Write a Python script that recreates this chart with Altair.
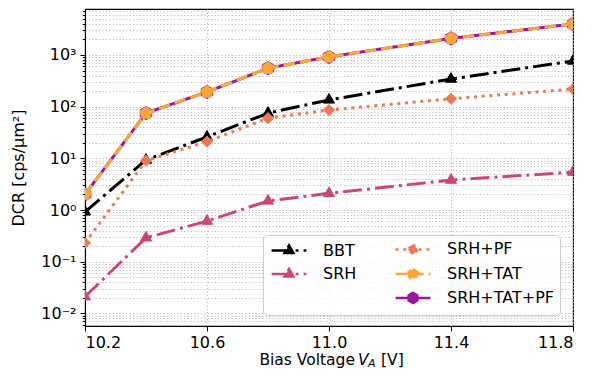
import altair as alt
import pandas as pd
import numpy as np

# ---- data ----
voltages = [10.2, 10.4, 10.6, 10.8, 11.0, 11.4, 11.8]
bbt = [0.92, 9.3, 26, 75, 135, 342, 765]
srh = [0.021, 0.29, 0.61, 1.5, 2.1, 3.8, 5.4]
srh_pf = [0.23, 9.0, 21, 60, 86, 142, 219]
srh_tat = [2.0, 75, 192, 555, 920, 2090, 3980]
srh_tat_pf = [2.0, 75, 192, 555, 920, 2090, 3980]

names = ["BBT", "SRH", "SRH+PF", "SRH+TAT", "SRH+TAT+PF"]
values = [bbt, srh, srh_pf, srh_tat, srh_tat_pf]

rows = []
for n, vals in zip(names, values):
    for v, d in zip(voltages, vals):
        rows.append({"series": n, "V": v, "DCR": d})
df = pd.DataFrame(rows)

# ---- styles ----
colors = {"BBT": "#000000", "SRH": "#cc4778", "SRH+PF": "#ed7953",
          "SRH+TAT": "#fca636", "SRH+TAT+PF": "#9c179e"}
dashes = {"BBT": [19, 5, 3, 5], "SRH": [19, 5, 3, 5], "SRH+PF": [3, 4.7],
          "SRH+TAT": [11.5, 5], "SRH+TAT+PF": [1, 0]}

def poly(pts, k=1.0):
    return "M" + "L".join(f"{x*k:.3f},{y*k:.3f}" for x, y in pts) + "Z"

tri = [(0, -1), (0.866, 0.5), (-0.866, 0.5)]
dia = [(0, -1), (1, 0), (0, 1), (-1, 0)]
pen = [(0, -1), (0.951, -0.309), (0.588, 0.809), (-0.588, 0.809), (-0.951, -0.309)]
hexa = [(0, -1), (0.866, -0.5), (0.866, 0.5), (0, 1), (-0.866, 0.5), (-0.866, -0.5)]
shapes = {"BBT": tri, "SRH": tri, "SRH+PF": dia, "SRH+TAT": pen, "SRH+TAT+PF": hexa}
msize = {"BBT": 164, "SRH": 164, "SRH+PF": 125, "SRH+TAT": 165, "SRH+TAT+PF": 175}

FONT = "DejaVu Sans"

# ---- scales & axes ----
xscale = alt.Scale(domain=[10.2, 11.8], nice=False, zero=False)
yscale = alt.Scale(type="log", domain=[0.0057, 7750], nice=False)

yticks = []
for e in range(-3, 4):
    for m in range(1, 10):
        v = float(f"{m}e{e}")
        if 0.0057 <= v <= 7750:
            yticks.append(v)

lg = "log(datum.value)/LN10"
is_major = f"abs({lg} - round({lg})) < 0.001"
ex = f"round({lg})"
label_expr = (f"{is_major} ? ({ex} == 3 ? '10³' : {ex} == 2 ? '10²' : {ex} == 1 ? '10¹' : "
              f"{ex} == 0 ? '10⁰' : {ex} == -1 ? '10⁻¹' : '10⁻²') : ''")

grid_style = dict(grid=True, gridDash=[1.1, 2.3], gridColor="#b0b0b0", gridWidth=0.9)

yaxis = alt.Axis(values=yticks, labelExpr=label_expr, labelOverlap=False,
                 labelFont=FONT, labelFontSize=16, labelColor="black", labelPadding=4,
                 tickColor="black",
                 tickSize={"condition": {"test": is_major, "value": 5}, "value": 2.8},
                 tickWidth=1, domainColor="black", domainWidth=1.1,
                 title="DCR [cps/μm²]", titleFont=FONT, titleFontSize=16,
                 titleFontWeight="normal", titleColor="black",
                 titleX=-67, titleY=158.5, titleAngle=270, titleAlign="center",
                 titleBaseline="middle", **grid_style)

xaxis = alt.Axis(values=[10.2, 10.6, 11.0, 11.4, 11.8], format=".1f",
                 labelFont=FONT, labelFontSize=16, labelColor="black", labelPadding=3,
                 tickColor="black", tickSize=5, tickWidth=1,
                 domainColor="black", domainWidth=1.1, title=None, **grid_style)

X = alt.X("V:Q", scale=xscale, axis=xaxis)
Y = alt.Y("DCR:Q", scale=yscale, axis=yaxis)

base = alt.Chart(df)
layers = []
for n in ["BBT", "SRH", "SRH+PF", "SRH+TAT+PF", "SRH+TAT"]:
    sub = base.transform_filter(alt.datum.series == n)
    layers.append(sub.mark_line(color=colors[n], strokeDash=dashes[n], strokeWidth=3,
                                clip=True).encode(x=X, y=Y))
    layers.append(sub.mark_point(filled=True, shape=poly(shapes[n]), size=msize[n],
                                 fill=colors[n], stroke=colors[n], strokeWidth=1,
                                 opacity=1, clip=True).encode(x=X, y=Y))

# ---- legend (matplotlib-like, 2 columns filled column by column) ----
leg_domain = ["BBT", "SRH", " ", "SRH+PF", "SRH+TAT", "SRH+TAT+PF"]
L = 2.9
def leg_path(n, k):
    return f"M-{L},0L{L},0" + poly(shapes[n], k)
leg_shapes = [leg_path(n, 0.85) if n.strip() else "M0,0" for n in leg_domain]
leg_colors = [colors.get(n, "rgba(0,0,0,0)") for n in leg_domain]
leg_dashes = [dashes.get(n, [1, 0]) for n in leg_domain]

legend = alt.Legend(title=None, orient="none", legendX=178, legendY=226, columns=2,
                    fillColor="rgba(255,255,255,0.8)", strokeColor="#cccccc",
                    cornerRadius=4, padding=6, labelFont=FONT, labelFontSize=16,
                    labelColor="black", symbolSize=144, symbolStrokeWidth=2.5,
                    symbolOffset=12, labelOffset=26, rowPadding=3, columnPadding=33)

legend_layer = base.transform_filter("false").mark_point(filled=True, opacity=1).encode(
    x=X, y=Y,
    fill=alt.Fill("series:N", scale=alt.Scale(domain=leg_domain, range=leg_colors), legend=legend),
    stroke=alt.Stroke("series:N", scale=alt.Scale(domain=leg_domain, range=leg_colors), legend=legend),
    shape=alt.Shape("series:N", scale=alt.Scale(domain=leg_domain, range=leg_shapes), legend=legend),
    strokeDash=alt.StrokeDash("series:N", scale=alt.Scale(domain=leg_domain, range=leg_dashes), legend=legend),
)
layers.append(legend_layer)

# ---- x-axis title with italic V and subscript A ----
one = pd.DataFrame({"k": [0]})
def txt(s, x, y, size=15.5, style="normal", align="left"):
    return alt.Chart(one).mark_text(text=s, font=FONT, fontSize=size, fontStyle=style,
                                    align=align, baseline="alphabetic", color="black").encode(
        x=alt.value(x), y=alt.value(y))

layers += [
    txt("Bias Voltage", 270, 355.5, align="right"),
    txt("V", 273, 355.5, style="italic"),
    txt("A", 283, 358, size=11, style="italic"),
    txt("[V]", 296, 355.5),
]

chart = alt.layer(*layers).properties(
    width=488, height=317,
    autosize=alt.AutoSizeParams(type="none"),
    padding={"left": 77, "top": 1, "right": 8, "bottom": 43},
).configure_view(stroke="black", strokeWidth=1.1)

chart.save("out.html", embed_options={"renderer": "svg", "actions": False})
